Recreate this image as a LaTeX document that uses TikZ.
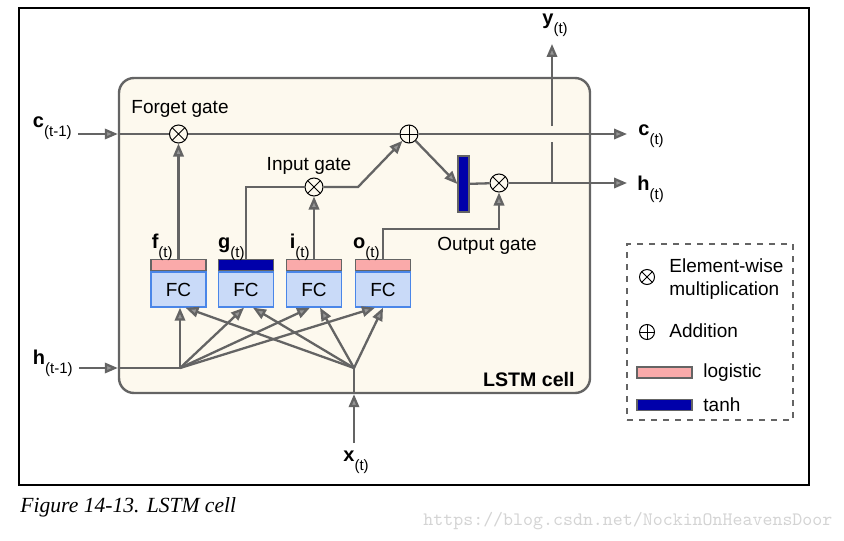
\documentclass[tikz,border=0pt]{standalone}
\usepackage{fontspec}
\setmainfont{Liberation Sans}
\newfontfamily\captionfont{Liberation Serif}
\usetikzlibrary{arrows.meta,calc,positioning}
\definecolor{linegray}{RGB}{100,100,100}
\definecolor{tipgray}{RGB}{150,150,150}
\definecolor{cellfill}{RGB}{253,249,238}
\definecolor{fcfill}{RGB}{201,218,248}
\definecolor{fcborder}{RGB}{74,134,232}
\definecolor{logpink}{RGB}{250,170,170}
\definecolor{tanhblue}{RGB}{0,0,170}
\definecolor{wmgray}{RGB}{212,212,212}
\newcommand{\vlab}[2]{{\fontsize{10}{12}\selectfont\bfseries #1}\raisebox{-4.5pt}{\fontsize{7.5}{9}\selectfont(#2)}}
\tikzset{
    >={Triangle[length=6.5pt,width=5.2pt,fill=tipgray]},
    outer/.style={
           draw=black, line width=0.7pt,
           minimum width=395pt, minimum height=238.5pt,
           inner sep=0pt},
    cellbox/.style={
           draw=linegray, line width=1.2pt, fill=cellfill,
           rounded corners=7.5pt,
           minimum width=235.5pt, minimum height=157.5pt,
           inner sep=0pt},
    gate/.style={
           circle,
           draw=black, line width=0.5pt, fill=cellfill,
           minimum size=9pt,
           inner sep=0pt},
    mult/.style={
           gate,
           path picture={\draw[black, line width=0.5pt]
               (path picture bounding box.south west) -- (path picture bounding box.north east)
               (path picture bounding box.north west) -- (path picture bounding box.south east);}},
    plus/.style={
           gate,
           path picture={\draw[black, line width=0.5pt]
               (path picture bounding box.west) -- (path picture bounding box.east)
               (path picture bounding box.north) -- (path picture bounding box.south);}},
    fcbox/.style={
           rectangle,
           draw=fcborder, line width=0.7pt, fill=fcfill,
           minimum width=27.5pt, minimum height=17.5pt,
           inner sep=0pt},
    logbar/.style={
           rectangle,
           draw=linegray, line width=0.6pt, fill=logpink,
           minimum width=27.5pt, minimum height=5.5pt,
           inner sep=0pt},
    tanhbar/.style={
           logbar, fill=tanhblue},
    lab/.style={
           inner sep=0pt},
    wire/.style={
           draw=linegray, line width=1.15pt},
    arr/.style={
           wire, ->}
}
\begin{document}
\begin{tikzpicture}[x=0.5pt, y=-0.5pt, font=\fontsize{9.5}{11.5}\selectfont]
        \useasboundingbox (0,0) rectangle (844,540);
        \node[outer] (frame) at (414,246.5) {};
        \node[cellbox] (cell) at (354.5,235.5) {};

        % gates
        \node[mult] (mf) at (178.5,134) {};
        \node[plus] (add) at (409,134) {};
        \node[mult] (mi) at (314,187) {};
        \node[mult] (mo) at (499,183) {};
        \node[tanhbar, minimum width=5.5pt, minimum height=28pt] (tanhc) at (463.5,184) {};

        \node[lab, anchor=base] (lforget) at (180,113) {Forget gate};
        \node[lab, anchor=base] (linput) at (309,170) {Input gate};
        \node[lab, anchor=base] (loutput) at (487,250) {Output gate};
        \node[lab, anchor=base east, font=\fontsize{9.8}{11.5}\selectfont\bfseries] (lcell) at (575,386) {LSTM cell};

        % fully connected layers
        \node[fcbox] (fcf) at (178.5,289.5) {FC};
        \node[fcbox] (fcg) at (246,289.5) {FC};
        \node[fcbox] (fci) at (314,289.5) {FC};
        \node[fcbox] (fco) at (383,289.5) {FC};
        \node[logbar, above=0pt of fcf] (barf) {};
        \node[tanhbar, above=0pt of fcg] (barg) {};
        \node[logbar, above=0pt of fci] (bari) {};
        \node[logbar, above=0pt of fco] (baro) {};

        \node[lab, anchor=base east] (lf) at (173,248) {\vlab{f}{t}};
        \node[lab, anchor=base east] (lg) at (245,248) {\vlab{g}{t}};
        \node[lab, anchor=base east] (li) at (310,248) {\vlab{i}{t}};
        \node[lab, anchor=base east] (lo) at (380,248) {\vlab{o}{t}};

        % inputs and outputs
        \node[lab, anchor=base east] (cprev) at (72,127) {\vlab{c}{t-1}};
        \node[lab, anchor=base east] (hprev) at (73,364) {\vlab{h}{t-1}};
        \node[lab, anchor=base west] (xcur) at (343,461) {\vlab{x}{t}};
        \node[lab, anchor=base west] (cnext) at (638,135) {\vlab{c}{t}};
        \node[lab, anchor=base west] (hnext) at (637,190) {\vlab{h}{t}};
        \node[lab, anchor=base west] (ycur) at (542,25) {\vlab{y}{t}};

        \coordinate (cin) at (78,134);
        \coordinate (hin) at (79,368);
        \coordinate (xin) at (354,443);
        \coordinate (cout) at (627,134);
        \coordinate (hout) at (627,183);
        \coordinate (hfan) at (180,368);
        \coordinate (xfan) at (354,368);
        \coordinate (ibend) at (358,187);
        \coordinate (obend) at (383,229);
        \coordinate (yjunc) at (552,183);
        \coordinate (ygap1) at (552,142);
        \coordinate (ygap2) at (552,126);
        \coordinate (ytip) at (552,44);

        % cell state
        \draw[arr] (cin) -- (cell.west |- cin);
        \draw[wire] (cell.west |- cin) -- (mf);
        \draw[wire] (mf) -- (add);
        \draw[arr] (add) -- (cout);

        % gate wires
        \draw[arr] (barf.north) -- (mf);
        \draw[wire] (barg.north) |- (mi);
        \draw[arr] (bari.north) -- (mi);
        \draw[arr] (mi) -- (ibend) -- (add);
        \draw[arr] (add) -- (tanhc.west);
        \draw[wire] (tanhc) -- (mo);
        \draw[arr] (baro.north) -- (obend) -| (mo);

        % hidden state and output
        \draw[arr] (mo) -- (hout);
        \draw[wire] (yjunc) -- (ygap1);
        \draw[arr] (ygap2) -- (ytip);

        % h(t-1) and x(t) into the layers
        \draw[arr] (hin) -- (cell.west |- hin);
        \draw[wire] (cell.west |- hin) -- (hfan);
        \draw[arr] (xin) -- (cell.south -| xin);
        \draw[wire] (cell.south -| xin) -- (xfan);

        \draw[arr] (hfan) -- (hfan |- fcf.south);
        \draw[arr] (hfan) -- ([xshift=-1pt]fcg.south);
        \draw[arr] (hfan) -- ([xshift=-2pt]fci.south);
        \draw[arr] (hfan) -- ([xshift=-4pt]fco.south);
        \draw[arr] (xfan) -- ([xshift=3.5pt]fcf.south);
        \draw[arr] (xfan) -- ([xshift=3.5pt]fcg.south);
        \draw[arr] (xfan) -- ([xshift=3pt]fci.south);
        \draw[arr] (xfan) -- (fco.south);

        % legend
        \node[draw=linegray, dashed, line width=0.6pt, minimum width=83pt, minimum height=88pt, inner sep=0pt] (legend) at (710,332) {};
        \node[mult, fill=white, minimum size=7.5pt] (lgmult) at (647,277) {};
        \node[lab, anchor=west, align=left] (lgmulttext) at (669,279) {Element-wise\\multiplication};
        \node[plus, fill=white, minimum size=7.5pt] (lgplus) at (647,332) {};
        \node[lab, anchor=base west] (lgplustext) at (669,337) {Addition};
        \node[logbar] (lglog) at (664.5,372.5) {};
        \node[lab, anchor=base west] (lglogtext) at (703,377) {logistic};
        \node[tanhbar] (lgtanh) at (664.5,405) {};
        \node[lab, anchor=base west] (lgtanhtext) at (703,411) {tanh};

        % caption
        \node[lab, anchor=base west, font=\captionfont\itshape\fontsize{10.8}{13}\selectfont] (caption) at (20,512) {Figure 14-13. LSTM cell};
        \node[lab, anchor=base west, text=wmgray, font=\ttfamily\fontsize{9.5}{11}\selectfont] (mark) at (423,525) {https://blog.csdn.net/NockinOnHeavensDoor};
\end{tikzpicture}
\end{document}
